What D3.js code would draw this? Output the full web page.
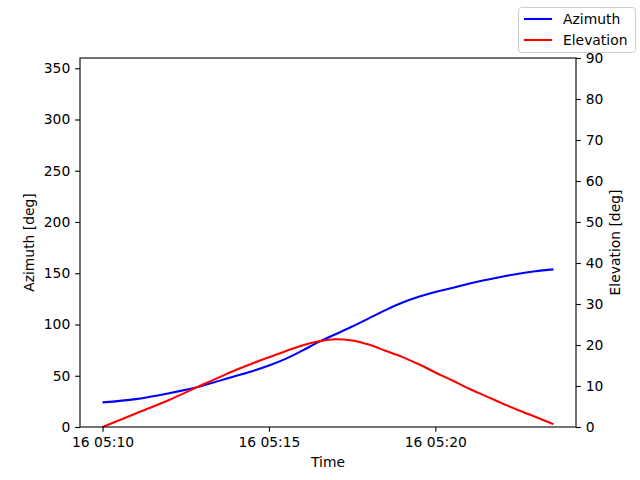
<!DOCTYPE html>
<html>
<head>
<meta charset="utf-8">
<script src="https://cdn.jsdelivr.net/npm/d3@7"></script>
<style>
  body { margin: 0; background: #fff; }
  text { font-family: "DejaVu Sans", sans-serif; }
</style>
</head>
<body>
<div id="canvas"></div>
<script>
"use strict"

/* Data: minutes after 16 05:10 */
let minutes = [0, 1, 2, 3, 3.5, 4, 4.5, 5, 5.5, 6, 6.5, 7, 7.5, 8, 8.5, 9, 9.5, 10, 10.5, 11, 11.5, 12, 12.5, 13, 13.55];
let azimuth = [24.0, 27.2, 33.0, 40.3, 45.0, 49.8, 54.5, 60.0, 66.5, 74.5, 83.0, 90.5, 98.0, 106.0, 114.0, 121.3, 127.1, 131.8, 135.6, 139.8, 143.4, 146.6, 149.6, 151.9, 153.8];
let elevation = [0, 3.3, 6.6, 10.3, 12.1, 13.9, 15.5, 17.0, 18.5, 19.9, 20.9, 21.4, 21.1, 20.1, 18.6, 17.1, 15.3, 13.3, 11.4, 9.4, 7.6, 5.8, 4.1, 2.5, 0.7];
let azTicks = [0, 50, 100, 150, 200, 250, 300, 350];
let elTicks = [0, 10, 20, 30, 40, 50, 60, 70, 80, 90];
let seriesNames = ["Azimuth", "Elevation"];
let seriesColors = ["blue", "red"];

/* Configuration variables: drawing */
let svgWidth = 640;
let svgHeight = 480;
let plot = { left: 80, right: 576, top: 58, bottom: 427 };
let fontSize = 13.89;
let tickLen = 4.86;

let t0 = new Date(2024, 0, 16, 5, 10, 0);
let times = minutes.map(m => new Date(t0.getTime() + m * 60000));

let svg = d3.select("#canvas")
    .append("svg")
    .attr("width", svgWidth)
    .attr("height", svgHeight);

/* Scales with matplotlib-like 5% margin on x */
let tMin = d3.min(times), tMax = d3.max(times);
let pad = (tMax - tMin) * 0.05;
let x = d3.scaleTime()
    .domain([new Date(tMin - pad), new Date(+tMax + pad)])
    .range([plot.left, plot.right]);

let yAz = d3.scaleLinear().domain([0, 360]).range([plot.bottom, plot.top]);
let yEl = d3.scaleLinear().domain([0, 90]).range([plot.bottom, plot.top]);

/* Lines */
let azLine = d3.line()
    .x((d, i) => x(times[i]))
    .y(d => yAz(d))
    .curve(d3.curveMonotoneX);

let elLine = d3.line()
    .x((d, i) => x(times[i]))
    .y(d => yEl(d))
    .curve(d3.curveMonotoneX);

svg.append("path")
    .attr("d", azLine(azimuth))
    .attr("fill", "none")
    .attr("stroke", seriesColors[0])
    .attr("stroke-width", 2.08);

svg.append("path")
    .attr("d", elLine(elevation))
    .attr("fill", "none")
    .attr("stroke", seriesColors[1])
    .attr("stroke-width", 2.08);

/* Axes */
let fmt = d3.timeFormat("%d %H:%M");
let xTicks = [0, 5, 10].map(m => new Date(t0.getTime() + m * 60000));

let xAxis = svg.append("g")
    .attr("transform", `translate(0,${plot.bottom})`)
    .call(d3.axisBottom(x).tickValues(xTicks).tickFormat(fmt)
        .tickSizeInner(tickLen).tickSizeOuter(0).tickPadding(4.86));

let leftAxis = svg.append("g")
    .attr("transform", `translate(${plot.left},0)`)
    .call(d3.axisLeft(yAz).tickValues(azTicks)
        .tickSizeInner(tickLen).tickSizeOuter(0).tickPadding(4.86));

let rightAxis = svg.append("g")
    .attr("transform", `translate(${plot.right},0)`)
    .call(d3.axisRight(yEl).tickValues(elTicks)
        .tickSizeInner(tickLen).tickSizeOuter(0).tickPadding(4.86));

[xAxis, leftAxis, rightAxis].forEach(g => {
    g.select(".domain").remove();
    g.selectAll(".tick line").attr("stroke", "black").attr("stroke-width", 1.1);
    g.selectAll(".tick text")
        .attr("fill", "black")
        .style("font-family", "DejaVu Sans")
        .style("font-size", fontSize + "px");
});

/* Frame */
svg.append("rect")
    .attr("x", plot.left)
    .attr("y", plot.top)
    .attr("width", plot.right - plot.left)
    .attr("height", plot.bottom - plot.top)
    .attr("fill", "none")
    .attr("stroke", "black")
    .attr("stroke-width", 1.1);

/**** label the axes ****/
svg.append("text")
    .attr("x", (plot.left + plot.right) / 2)
    .attr("y", 467)
    .attr("text-anchor", "middle")
    .style("font-size", fontSize + "px")
    .text("Time");

svg.append("text")
    .attr("transform", `translate(34,${(plot.top + plot.bottom) / 2}) rotate(-90)`)
    .attr("text-anchor", "middle")
    .style("font-size", fontSize + "px")
    .text("Azimuth [deg]");

svg.append("text")
    .attr("transform", `translate(620,${(plot.top + plot.bottom) / 2}) rotate(-90)`)
    .attr("text-anchor", "middle")
    .style("font-size", fontSize + "px")
    .text("Elevation [deg]");

/**** legend ****/
let legend = svg.append("g");
legend.append("rect")
    .attr("x", 518.5)
    .attr("y", 7.5)
    .attr("width", 117)
    .attr("height", 45)
    .attr("rx", 3)
    .attr("fill", "white")
    .attr("fill-opacity", 0.8)
    .attr("stroke", "#cccccc");

let items = legend.selectAll("g.item")
    .data(seriesNames)
    .join("g")
    .attr("class", "item")
    .attr("transform", (d, i) => `translate(0,${19 + i * 21})`);

items.append("line")
    .attr("x1", 524)
    .attr("x2", 552)
    .attr("stroke", (d, i) => seriesColors[i])
    .attr("stroke-width", 2.08);

items.append("text")
    .attr("x", 563)
    .attr("dy", "0.35em")
    .style("font-size", fontSize + "px")
    .text(d => d);
</script>
</body>
</html>
